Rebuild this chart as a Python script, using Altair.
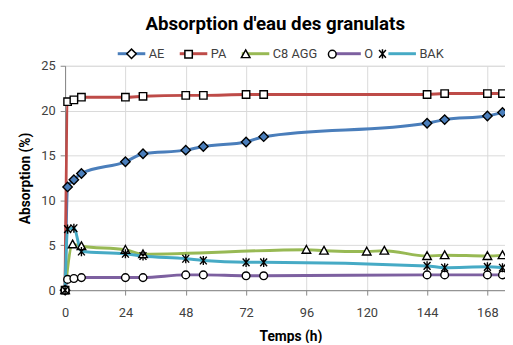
import altair as alt
import pandas as pd

series_names = ["AE", "PA", "C8 AGG", "O", "BAK"]
hours = [0, 1, 3.5, 6.5, 24, 31, 48, 55, 72, 79, 144, 151, 168, 174]
ae_vals = [0, 11.5, 12.3, 13.0, 14.3, 15.2, 15.6, 16.0, 16.5, 17.1, 18.6, 19.0, 19.4, 19.8]
pa_vals = [0, 21.0, 21.2, 21.5, 21.5, 21.6, 21.7, 21.7, 21.8, 21.8, 21.8, 21.9, 21.9, 21.9]
o_vals = [0, 1.2, 1.3, 1.4, 1.4, 1.4, 1.7, 1.7, 1.6, 1.6, 1.7, 1.7, 1.7, 1.7]
bak_vals = [0, 6.8, 6.9, 4.3, 4.05, 3.8, 3.5, 3.3, 3.1, 3.1, 2.7, 2.5, 2.6, 2.5]
c8_hours = [0, 3, 6.5, 24, 31, 96, 103, 120, 127, 144, 151, 168, 174]
c8_vals = [0, 5.1, 4.9, 4.5, 4.0, 4.5, 4.4, 4.3, 4.4, 3.8, 3.9, 3.8, 3.9]
x_ticks = [0, 24, 48, 72, 96, 120, 144, 168]
y_ticks = [0, 5, 10, 15, 20, 25]

line_colors = ["#4A7EBB", "#BE4B48", "#98B954", "#7D60A0", "#46AAC5"]
marker_fills = ["#4A7EBB", "#FFFFFF", "#FFFFFF", "#FFFFFF", "#000000"]
marker_paths = [
    "M0,-0.33L0.33,0L0,0.33L-0.33,0Z",
    "M-0.26,-0.26H0.26V0.26H-0.26Z",
    "M0,-0.3L0.3,0.24L-0.3,0.24Z",
    "M0.27,0A0.27,0.27 0 1,1 -0.27,0A0.27,0.27 0 1,1 0.27,0Z",
    "M-0.24,-0.27L0.24,0.27M-0.24,0.27L0.24,-0.27M0,-0.32V0.32",
]

series_data = {
    "AE": (hours, ae_vals),
    "PA": (hours, pa_vals),
    "C8 AGG": (c8_hours, c8_vals),
    "O": (hours, o_vals),
    "BAK": (hours, bak_vals),
}
rows = []
for name in series_names:
    hs, vs = series_data[name]
    for h, v in zip(hs, vs):
        rows.append({"t": h, "v": v, "s": name})
df = pd.DataFrame(rows)

FONT = "Roboto"

x_enc = alt.X(
    "t:Q",
    scale=alt.Scale(domain=[0, 175], nice=False, zero=False),
    axis=alt.Axis(
        values=x_ticks, title="Temps (h)", titleFont=FONT, titleFontSize=14,
        titleFontWeight="bold", titleColor="#000000", titleX=229, titlePadding=10,
        labelFont=FONT, labelFontSize=13, labelColor="#404040", labelPadding=12,
        labelFlush=False, tickSize=5, tickColor="#868686", domainColor="#868686",
        gridColor="#D9D9D9", labelOverlap=False,
    ),
)
y_enc = alt.Y(
    "v:Q",
    scale=alt.Scale(domain=[0, 25], nice=False),
    axis=alt.Axis(
        values=y_ticks, title="Absorption (%)", titleFont=FONT, titleFontSize=14,
        titleFontWeight="bold", titleColor="#000000", titlePadding=9,
        labelFont=FONT, labelFontSize=13, labelColor="#404040", labelPadding=5,
        labelFlush=False, tickSize=5, tickColor="#868686", domainColor="#868686",
        gridColor="#D9D9D9", labelOverlap=False,
    ),
)

common_legend = dict(
    title=None, orient="none", legendX=52, legendY=-28, direction="horizontal",
    labelFont=FONT, labelFontSize=13, labelColor="#404040", labelOffset=2,
    columnPadding=9, padding=0,
)

lines = alt.Chart(df).mark_line(strokeWidth=3, interpolate="monotone").encode(
    x=x_enc,
    y=y_enc,
    color=alt.Color(
        "s:N",
        scale=alt.Scale(domain=series_names, range=line_colors),
        legend=alt.Legend(symbolType="stroke", symbolSize=784, symbolStrokeWidth=3,
                          zindex=1, **common_legend),
    ),
)

points = alt.Chart(df).mark_point(
    size=841, filled=True, stroke="black", strokeWidth=1.4, opacity=1
).encode(
    x=x_enc,
    y=y_enc,
    fill=alt.Fill(
        "s:N", sort=series_names,
        scale=alt.Scale(range=marker_fills),
        legend=None,
    ),
    shape=alt.Shape(
        "s:N", sort=series_names,
        scale=alt.Scale(range=marker_paths),
        legend=alt.Legend(symbolSize=841, symbolStrokeWidth=1.5, symbolStrokeColor="black",
                          symbolFillColor="white", labelOpacity=0, zindex=2,
                          **common_legend),
    ),
)

chart = alt.layer(lines, points).properties(
    width=447,
    height=228,
    autosize=alt.AutoSizeParams(type="none"),
    padding={"left": 58, "top": 56, "right": 0, "bottom": 51},
    title=alt.TitleParams(
        "Absorption d'eau des granulats", font=FONT, fontSize=19, fontWeight="bold",
        color="#000000", anchor="middle", frame="group", dx=-10, offset=4,
    ),
).configure_view(stroke=None).configure(background="white")

chart.save("out.html", embed_options={"renderer": "svg", "actions": False})
